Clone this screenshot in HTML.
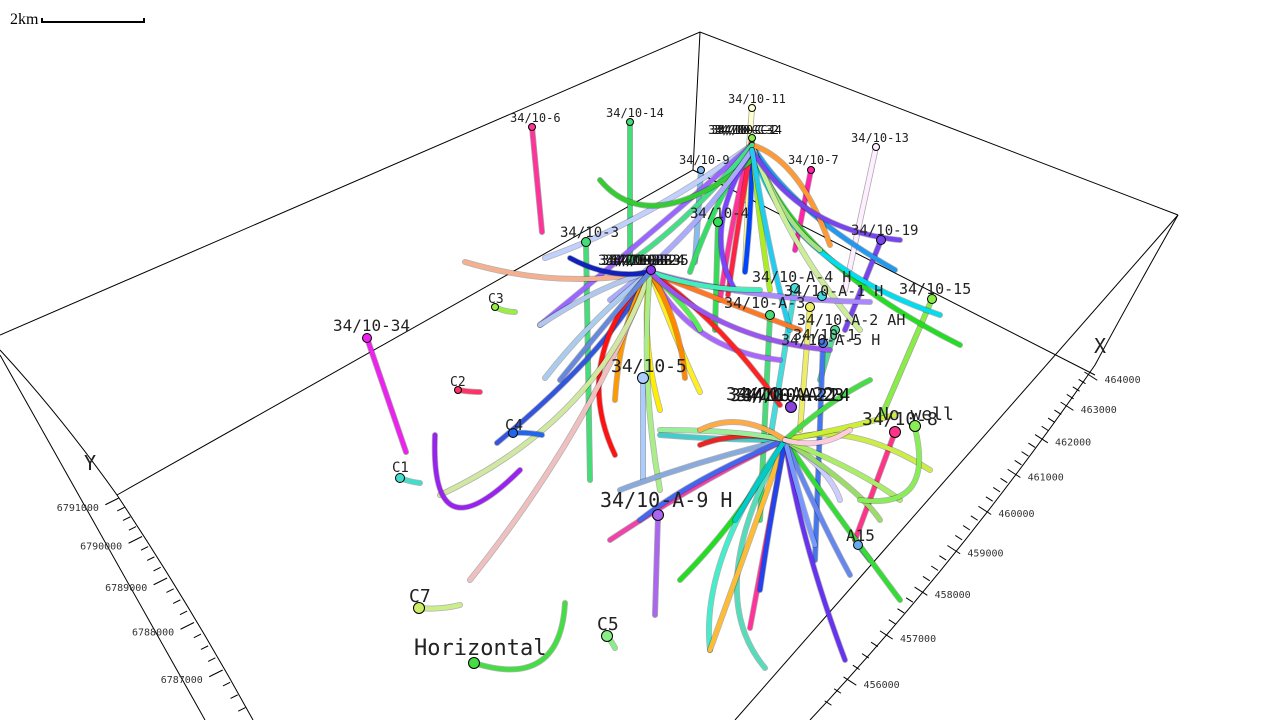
<!DOCTYPE html>
<html><head><meta charset="utf-8">
<style>
html,body{margin:0;padding:0;background:#fff;width:1280px;height:720px;overflow:hidden}
svg{position:absolute;left:0;top:0}
text{font-family:"DejaVu Sans Mono","Liberation Mono",monospace}
</style></head>
<body>
<svg id="chart" width="1280" height="720" viewBox="0 0 1280 720" xmlns="http://www.w3.org/2000/svg">
<g id="box" stroke="#000" stroke-width="1" fill="none">
<polyline points="0,335 700,32 1178,215"/>
<line x1="700" y1="32" x2="693" y2="170"/>
<polyline points="117,495 693,170 1095,375"/>
<path d="M0,350 Q60,415 117,495 Q190,605 253,720"/>
<line x1="0" y1="355" x2="205" y2="720"/>
<line x1="1178" y1="215" x2="735" y2="720"/>
<path d="M1178,215 Q1130,300 1095,365 Q960,560 810,720"/>
</g>
<g id="axes"></g>
<g id="wells"></g>
<g id="heads"></g>
<g>
<text x="10" y="24" font-size="16" style="font-family:'Liberation Serif',serif">2km</text>
<polyline points="42,18 42,22 144,22 144,18" stroke="#000" stroke-width="2" fill="none"/>
</g>
</svg>
<script>
// ---- axis tick data ----
const xTicks = [464000,463000,462000,461000,460000,459000,458000,457000,456000];
const yTicks = [6791000,6790000,6789000,6788000,6787000];
// ---- trajectories: [startX,startY, ctrlX,ctrlY, endX,endY] in plot units ----
const traj = [];
const trajColor = [];
// cluster C (top)
traj.push([752,140, 748,200, 745,270]); trajColor.push('#ffff99');
traj.push([752,140, 735,200, 720,300]); trajColor.push('#ff3399');
traj.push([752,145, 640,225, 545,258]); trajColor.push('#c0d0ff');
traj.push([752,145, 650,235, 540,325]); trajColor.push('#9966ff');
traj.push([752,145, 790,210, 895,270]); trajColor.push('#2299ee');
traj.push([752,145, 790,260, 960,345]); trajColor.push('#22dd22');
traj.push([752,145, 780,260, 940,315]); trajColor.push('#00ddee');
traj.push([752,145, 752,210, 745,272]); trajColor.push('#0044ff');
traj.push([752,145, 760,230, 770,290]); trajColor.push('#aaee22');
traj.push([752,145, 740,210, 728,295]); trajColor.push('#ff2244');
traj.push([752,145, 715,200, 690,272]); trajColor.push('#33dd66');
traj.push([752,145, 780,220, 820,250]); trajColor.push('#aadd88');
traj.push([752,145, 790,250, 860,330]); trajColor.push('#ccee99');
traj.push([752,145, 800,160, 830,245]); trajColor.push('#ff9933');
traj.push([752,145, 690,220, 630,262]); trajColor.push('#44dd88');
traj.push([752,160, 650,240, 600,180]); trajColor.push('#33cc33');
traj.push([752,150, 700,230, 735,290]); trajColor.push('#7744ff');
traj.push([752,150, 800,230, 900,240]); trajColor.push('#7744ee');
traj.push([752,150, 690,240, 610,300]); trajColor.push('#aaaaff');
traj.push([752,150, 770,260, 790,330]); trajColor.push('#22ccee');
// cluster A (middle-left)
traj.push([650,272, 560,290, 465,262]); trajColor.push('#f5b090');
traj.push([650,272, 600,285, 540,325]); trajColor.push('#b0c8ee');
traj.push([650,272, 590,320, 545,378]); trajColor.push('#aaccee');
traj.push([650,272, 610,350, 497,443]); trajColor.push('#3355dd');
traj.push([650,272, 570,360, 615,455]); trajColor.push('#ff1111');
traj.push([650,272, 620,320, 615,400]); trajColor.push('#ff9900');
traj.push([650,272, 640,340, 660,410]); trajColor.push('#ffee00');
traj.push([650,272, 680,350, 700,392]); trajColor.push('#ffee22');
traj.push([650,272, 690,350, 780,360]); trajColor.push('#aa66ff');
traj.push([650,272, 720,300, 800,330]); trajColor.push('#ff7722');
traj.push([650,272, 750,300, 870,302]); trajColor.push('#aa88ff');
traj.push([650,272, 720,320, 780,405]); trajColor.push('#ff2222');
traj.push([650,272, 590,430, 470,580]); trajColor.push('#f0c0c0');
traj.push([650,272, 600,420, 440,495]); trajColor.push('#d0e8a0');
traj.push([650,272, 680,320, 685,378]); trajColor.push('#ff8800');
traj.push([650,272, 610,280, 570,258]); trajColor.push('#1122bb');
traj.push([650,272, 690,310, 700,330]); trajColor.push('#55ee55');
traj.push([650,272, 640,380, 660,490]); trajColor.push('#aaee88');
traj.push([650,272, 700,290, 760,290]); trajColor.push('#44eebb');
traj.push([650,272, 720,340, 830,350]); trajColor.push('#9955ee');
traj.push([650,272, 600,330, 560,380]); trajColor.push('#6688dd');
// cluster B (lower)
traj.push([785,440, 740,520, 680,580]); trajColor.push('#22dd22');
traj.push([785,440, 700,560, 710,650]); trajColor.push('#44eecc');
traj.push([785,440, 770,520, 750,628]); trajColor.push('#ff3399');
traj.push([785,440, 800,540, 845,660]); trajColor.push('#6633ee');
traj.push([785,440, 700,590, 765,668]); trajColor.push('#55ddbb');
traj.push([785,440, 840,520, 900,600]); trajColor.push('#33dd33');
traj.push([785,440, 820,520, 850,575]); trajColor.push('#6688ee');
traj.push([785,440, 850,420, 930,470]); trajColor.push('#ccee44');
traj.push([785,440, 840,430, 895,415]); trajColor.push('#ccee33');
traj.push([785,440, 720,440, 660,435]); trajColor.push('#44cccc');
traj.push([785,440, 700,460, 620,490]); trajColor.push('#88aadd');
traj.push([785,440, 700,480, 610,540]); trajColor.push('#ee44aa');
traj.push([785,440, 830,470, 840,500]); trajColor.push('#ccccff');
traj.push([785,440, 860,490, 880,520]); trajColor.push('#99dd66');
traj.push([785,440, 750,540, 710,650]); trajColor.push('#ffbb33');
traj.push([785,440, 740,430, 700,445]); trajColor.push('#ee2222');
traj.push([785,440, 690,480, 640,520]); trajColor.push('#4466ee');
traj.push([785,440, 770,520, 760,590]); trajColor.push('#2244ee');
traj.push([785,440, 800,500, 815,545]); trajColor.push('#7799ff');
traj.push([785,440, 760,480, 735,520]); trajColor.push('#00cccc');
traj.push([785,440, 830,400, 870,380]); trajColor.push('#44dd44');
traj.push([785,440, 740,430, 660,430]); trajColor.push('#99ee99');
traj.push([785,440, 860,470, 900,500]); trajColor.push('#aaee66');
traj.push([785,440, 740,410, 700,430]); trajColor.push('#ffaa44');
traj.push([785,440, 820,450, 850,430]); trajColor.push('#ffccdd');
// isolated short wells
traj.push([915,428, 935,510, 860,500]); trajColor.push('#88ee55');
traj.push([474,663, 560,690, 565,603]); trajColor.push('#44dd44');
traj.push([435,435, 430,560, 520,470]); trajColor.push('#9922ee');
traj.push([419,608, 440,610, 460,605]); trajColor.push('#ccee88');
traj.push([400,478, 410,482, 420,483]); trajColor.push('#44ddcc');
traj.push([458,390, 470,392, 480,392]); trajColor.push('#ff3366');
traj.push([495,307, 505,312, 515,312]); trajColor.push('#99ee44');
traj.push([513,433, 527,432, 542,435]); trajColor.push('#2266ee');
traj.push([607,636, 612,642, 615,648]); trajColor.push('#88ee88');
// ---- well heads ----
const wellNames = ['34/10-6','34/10-14','34/10-11','34/10-C-3','34/10-9','34/10-7','34/10-13','34/10-3','34/10-B-1','34/10-4','34/10-19','34/10-15','34/10-A-4 H','34/10-A-3','34/10-A-1 H','34/10-A-2 AH','34/10-1','34/10-A-5 H','34/10-34','34/10-5','34/10-A-22','34/10-8','No well','34/10-A-9 H','A15','C1','C2','C3','C4','C7','C5','Horizontal'];
const headX = [532,630,752,752,701,811,876,586,651,718,881,932,795,770,822,810,835,823,367,643,791,895,915,658,858,400,458,495,513,419,607,474];
const headY = [127,122,108,138,170,170,147,242,270,222,240,299,288,315,296,307,330,343,338,378,407,432,426,515,545,478,390,307,433,608,636,663];
const headEndX = [542,630,745,752,695,795,845,590,651,715,845,880,770,760,822,800,820,815,406,643,791,855,915,655,870,400,458,495,513,419,607,474];
const headEndY = [232,262,200,138,262,250,290,480,270,330,330,420,440,520,296,430,380,560,452,480,407,540,426,615,560,478,390,307,433,608,636,663];
const headColor = ['#ff3399','#44dd77','#ffffcc','#88ee44','#88bbee','#ff22aa','#ffeeff','#44dd77','#8833ee','#33dd55','#7744ee','#88ee44','#44dddd','#44dd77','#44dddd','#eeee66','#55dd99','#4477ee','#ee22ee','#aaccff','#8844dd','#ff3388','#88ee55','#aa66ee','#66aaee','#44ddcc','#ff3366','#99ee44','#2266ee','#ccee66','#88ee88','#44dd44'];
const labelSize = [12,12,12,12,12,12,12,14,14,14,14,15,15,15,15,15,15,15,16,18,18,18,18,20,16,14,13,13,15,18,18,22];
const labelDX = [-22,-24,-24,-44,-22,-23,-25,-26,-53,-28,-30,-33,-43,-46,-38,-13,-42,-42,-34,-32,-65,-33,-37,-58,-12,-8,-8,-7,-8,-10,-10,-60];
const labelDY = [-5,-5,-5,-4,-6,-6,-5,-5,-5,-4,-5,-5,-6,-7,0,18,10,2,-7,-6,-7,-7,-6,-8,-4,-6,-4,-4,-3,-6,-6,-8];
// overlapping cluster labels (many wells share a template)
const clusterLabelText = ['34/10-C-1','34/10-C-2','34/10-C-4','34/10-B-2','34/10-B-3','34/10-B-4','34/10-B-5','34/10-A-21','34/10-A-23','34/10-A-24'];
const clusterLabelX = [711,714,717,601,605,609,613,730,736,742];
const clusterLabelY = [134,134,134,265,265,265,265,401,401,401];
const clusterLabelSize = [12,12,12,14,14,14,14,18,18,18];

const W = 1280, H = 720;
function sx(u){ return u * W / 1280; }
function sy(v){ return v * H / 720; }
function xAxisPos(v){ const t=(464000-v)/1000; const y=372+29*t+1.14*t*t; return [1090-(y-365)*0.79, y]; }
function yAxisPos(v){ const t=(6791000-v)/1000; const y=498+37*t+1.5*t*t; return [117+(y-495)*0.604, y]; }

const NS='http://www.w3.org/2000/svg';
function mk(tag, attrs, parent){ const e=document.createElementNS(NS,tag); for(const k in attrs) e.setAttribute(k,attrs[k]); parent.appendChild(e); return e; }

const axes=document.getElementById('axes');
for(let v=464000; v>=455500; v-=250){
  const p=xAxisPos(v); const major=(v%1000===0);
  const len=major?15:8;
  const t=mk('line',{x1:p[0],y1:p[1],x2:p[0]+len*0.85,y2:p[1]+len*0.55,stroke:'#000','stroke-width':1},axes);
  
  
}
xTicks.forEach(v=>{
  const p=xAxisPos(v);
  const t=mk('text',{x:p[0]+20,y:p[1]+11,'font-size':10,fill:'#333'},axes);
  t.textContent=v;
  
  
});
for(let v=6791000; v>=6786250; v-=250){
  const p=yAxisPos(v); const major=(v%1000===0);
  const len=major?15:8;
  const t=mk('line',{x1:p[0],y1:p[1],x2:p[0]-len*0.9,y2:p[1]+len*0.45,stroke:'#000','stroke-width':1},axes);
  
  
}
yTicks.forEach(v=>{
  const p=yAxisPos(v);
  const t=mk('text',{x:p[0]-62,y:p[1]+13,'font-size':10,fill:'#333'},axes);
  t.textContent=v;
  
  
});
const xl=mk('text',{x:1094,y:353,'font-size':20,fill:'#222'},axes); xl.textContent='X';


const yl=mk('text',{x:84,y:470,'font-size':20,fill:'#222'},axes); yl.textContent='Y';



const wells=document.getElementById('wells');
for(let i=0;i<wellNames.length;i++){
  if(headX[i]===headEndX[i] && headY[i]===headEndY[i]) continue;
  const d=`M${sx(headX[i])},${sy(headY[i])} L${sx(headEndX[i])},${sy(headEndY[i])}`;
  mk('path',{d:d,stroke:'rgba(0,0,0,0.35)','stroke-width':6,fill:'none','stroke-linecap':'round'},wells);
  const p=mk('path',{d:d,stroke:headColor[i],'stroke-width':4.5,fill:'none','stroke-linecap':'round'},wells);
  
  
}
for(let i=0;i<traj.length;i++){
  const r=traj[i];
  const d=`M${sx(r[0])},${sy(r[1])} Q${sx(r[2])},${sy(r[3])} ${sx(r[4])},${sy(r[5])}`;
  mk('path',{d:d,stroke:'rgba(0,0,0,0.3)','stroke-width':6,fill:'none','stroke-linecap':'round'},wells);
  const p=mk('path',{d:d,stroke:trajColor[i],'stroke-width':4.5,fill:'none','stroke-linecap':'round'},wells);
  
  
}

const heads=document.getElementById('heads');
for(let i=0;i<clusterLabelText.length;i++){
  const t=mk('text',{x:sx(clusterLabelX[i]),y:sy(clusterLabelY[i]),'font-size':clusterLabelSize[i],fill:'#111'},heads);
  t.textContent=clusterLabelText[i];
  
  
}
for(let i=0;i<wellNames.length;i++){
  const r=labelSize[i]>=18?5.5:(labelSize[i]>=14?4.5:3.5);
  const c=mk('circle',{cx:sx(headX[i]),cy:sy(headY[i]),r:r,fill:headColor[i],stroke:'#000','stroke-width':1},heads);
  
  
  const t=mk('text',{x:sx(headX[i])+labelDX[i],y:sy(headY[i])+labelDY[i],'font-size':labelSize[i],fill:'#222'},heads);
  t.textContent=wellNames[i];
  
  
}
</script>
</body></html>
